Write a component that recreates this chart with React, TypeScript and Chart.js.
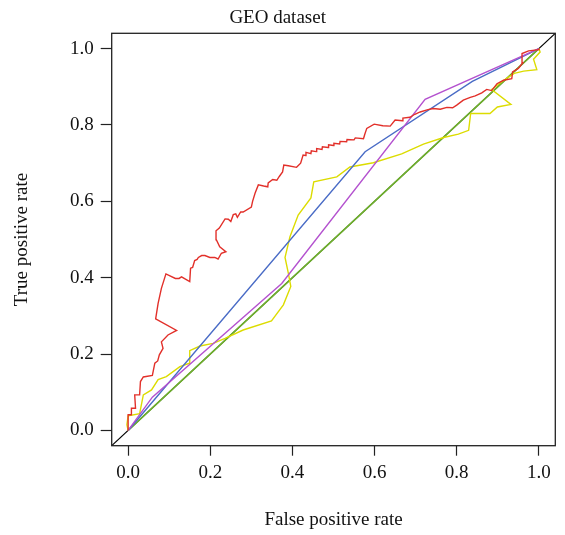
import React, { useEffect, useRef } from "react";
import { Chart, registerables } from "chart.js";

Chart.register(...registerables);

const chartTitle = "GEO dataset";
const xTitle = "False positive rate";
const yTitle = "True positive rate";
const tickValues = [0, 0.2, 0.4, 0.6, 0.8, 1.0];
const tickLabels = ["0.0", "0.2", "0.4", "0.6", "0.8", "1.0"];

const redX = [0, 0, 0.008, 0.008, 0.018, 0.016, 0.028, 0.03, 0.037, 0.059, 0.065, 0.072, 0.076, 0.085, 0.081, 0.097, 0.118, 0.067, 0.073, 0.081, 0.092, 0.115, 0.124, 0.13, 0.15, 0.152, 0.157, 0.162, 0.168, 0.171, 0.179, 0.187, 0.199, 0.211, 0.219, 0.227, 0.238, 0.223, 0.215, 0.214, 0.222, 0.236, 0.244, 0.25, 0.256, 0.262, 0.266, 0.274, 0.28, 0.3, 0.303, 0.309, 0.317, 0.33, 0.34, 0.341, 0.352, 0.362, 0.368, 0.376, 0.379, 0.39, 0.41, 0.42, 0.426, 0.432, 0.433, 0.445, 0.446, 0.458, 0.459, 0.472, 0.473, 0.487, 0.488, 0.5, 0.501, 0.515, 0.516, 0.532, 0.533, 0.55, 0.553, 0.573, 0.576, 0.581, 0.599, 0.62, 0.638, 0.65, 0.668, 0.669, 0.686, 0.698, 0.711, 0.73, 0.743, 0.76, 0.776, 0.79, 0.8, 0.816, 0.833, 0.845, 0.861, 0.873, 0.885, 0.898, 0.914, 0.934, 0.936, 0.95, 0.961, 0.959, 0.975, 1, 1];
const redY = [0, 0.041, 0.041, 0.058, 0.058, 0.093, 0.093, 0.128, 0.14, 0.144, 0.176, 0.182, 0.198, 0.215, 0.232, 0.25, 0.262, 0.292, 0.333, 0.372, 0.41, 0.398, 0.398, 0.402, 0.39, 0.425, 0.427, 0.445, 0.448, 0.453, 0.458, 0.458, 0.453, 0.453, 0.449, 0.464, 0.468, 0.481, 0.499, 0.523, 0.53, 0.554, 0.553, 0.547, 0.565, 0.567, 0.558, 0.572, 0.572, 0.585, 0.6, 0.621, 0.643, 0.64, 0.638, 0.648, 0.657, 0.655, 0.665, 0.677, 0.695, 0.693, 0.689, 0.7, 0.721, 0.72, 0.728, 0.725, 0.732, 0.73, 0.738, 0.736, 0.743, 0.741, 0.748, 0.746, 0.752, 0.75, 0.757, 0.756, 0.762, 0.761, 0.766, 0.764, 0.775, 0.791, 0.802, 0.798, 0.797, 0.813, 0.811, 0.818, 0.82, 0.828, 0.834, 0.84, 0.843, 0.841, 0.846, 0.845, 0.852, 0.865, 0.872, 0.876, 0.884, 0.893, 0.89, 0.908, 0.917, 0.921, 0.939, 0.948, 0.963, 0.987, 0.994, 0.997, 1];

const yellowX = [0, -0.003, 0, 0.028, 0.037, 0.057, 0.073, 0.093, 0.126, 0.149, 0.15, 0.175, 0.207, 0.236, 0.28, 0.349, 0.378, 0.396, 0.39, 0.382, 0.394, 0.414, 0.445, 0.452, 0.508, 0.54, 0.597, 0.666, 0.719, 0.768, 0.804, 0.829, 0.834, 0.881, 0.899, 0.932, 0.885, 0.912, 0.94, 0.963, 0.995, 0.987, 1.003, 1];
const yellowY = [0, 0.015, 0.038, 0.044, 0.093, 0.106, 0.133, 0.141, 0.167, 0.176, 0.209, 0.221, 0.228, 0.241, 0.263, 0.287, 0.329, 0.377, 0.412, 0.453, 0.507, 0.564, 0.609, 0.651, 0.664, 0.69, 0.701, 0.724, 0.75, 0.767, 0.776, 0.786, 0.83, 0.83, 0.847, 0.854, 0.893, 0.915, 0.935, 0.941, 0.945, 0.972, 0.991, 1];

const blueX = [0, 0.577, 0.838, 1];
const blueY = [0, 0.73, 0.914, 1];

const purpleX = [0, 0.059, 0.374, 0.723, 1];
const purpleY = [0, 0.087, 0.385, 0.867, 1];

const greenX = [0, 1];
const greenY = [0, 1];

const diagX = [-0.04, 1.04];
const diagY = [-0.04, 1.04];

const toPts = (xs: number[], ys: number[]) => xs.map((x, i) => ({ x, y: ys[i] }));

const FONT = "'Liberation Serif', 'Times New Roman', serif";

export default function App() {
  const ref = useRef<HTMLCanvasElement>(null);
  useEffect(() => {
    if (!ref.current) return;
    const boxPlugin = {
      id: "boxPlugin",
      afterDatasetsDraw(chart: any) {
        const { ctx, chartArea } = chart;
        ctx.save();
        ctx.strokeStyle = "#222";
        ctx.lineWidth = 1.3;
        ctx.strokeRect(chartArea.left, chartArea.top, chartArea.right - chartArea.left, chartArea.bottom - chartArea.top);
        ctx.restore();
      },
    };
    const line = (xs: number[], ys: number[], color: string, w = 1.4) => ({
      data: toPts(xs, ys),
      borderColor: color,
      backgroundColor: color,
      borderWidth: w,
      pointRadius: 0,
      tension: 0,
      fill: false,
    });
    const chart = new Chart(ref.current, {
      type: "line",
      data: {
        datasets: [
          line(redX, redY, "#e2302a"),
          line(purpleX, purpleY, "#b452cf"),
          line(blueX, blueY, "#4a6cc6"),
          line(yellowX, yellowY, "#dcdc00"),
          line(greenX, greenY, "#6fb22c", 1.6),
          { ...line(diagX, diagY, "#000000", 1.1), clip: 0 } as any,
        ],
      },
      options: {
        animation: false,
        responsive: false,
        parsing: false as any,
        layout: { padding: { left: 0, right: 9.7, top: 0, bottom: 0 } },
        plugins: {
          legend: { display: false },
          tooltip: { enabled: false },
          title: {
            display: true,
            text: chartTitle,
            color: "#111",
            font: { family: FONT, size: 19, weight: "normal" },
            padding: { top: 7, bottom: 3.5 },
          },
        },
        scales: {
          x: {
            type: "linear",
            min: -0.04,
            max: 1.04,
            afterBuildTicks: (s: any) => {
              s.ticks = tickValues.map((v) => ({ value: v }));
            },
            afterFit: (s: any) => {
              s.height = 89.3;
            },
            border: { display: false },
            grid: { drawOnChartArea: false, drawTicks: true, tickLength: 10, tickColor: "#222", tickWidth: 1.2 },
            ticks: {
              color: "#111",
              font: { family: FONT, size: 19 },
              padding: 6,
              maxRotation: 0,
              callback: (v: any) => {
                const i = tickValues.findIndex((t) => Math.abs(t - v) < 1e-9);
                return i >= 0 ? tickLabels[i] : "";
              },
            },
            title: {
              display: true,
              text: xTitle,
              color: "#111",
              font: { family: FONT, size: 19 },
              padding: { top: 0, bottom: 4 },
            },
          },
          y: {
            type: "linear",
            min: -0.04,
            max: 1.04,
            afterBuildTicks: (s: any) => {
              s.ticks = tickValues.map((v) => ({ value: v }));
            },
            afterFit: (s: any) => {
              s.width = 111.7;
            },
            border: { display: false },
            grid: { drawOnChartArea: false, drawTicks: true, tickLength: 11, tickColor: "#222", tickWidth: 1.2 },
            ticks: {
              color: "#111",
              font: { family: FONT, size: 19 },
              padding: 7,
              callback: (v: any) => {
                const i = tickValues.findIndex((t) => Math.abs(t - v) < 1e-9);
                return i >= 0 ? tickLabels[i] : "";
              },
            },
            title: {
              display: true,
              text: yTitle,
              color: "#111",
              font: { family: FONT, size: 19 },
              padding: { top: 11, bottom: 0 },
            },
          },
        },
      },
      plugins: [boxPlugin],
    });
    return () => chart.destroy();
  }, []);
  return (
    <div style={{ position: "absolute", left: 0, top: 0, width: 565, height: 535, background: "#fff" }}>
      <canvas ref={ref} width={565} height={535} />
    </div>
  );
}
